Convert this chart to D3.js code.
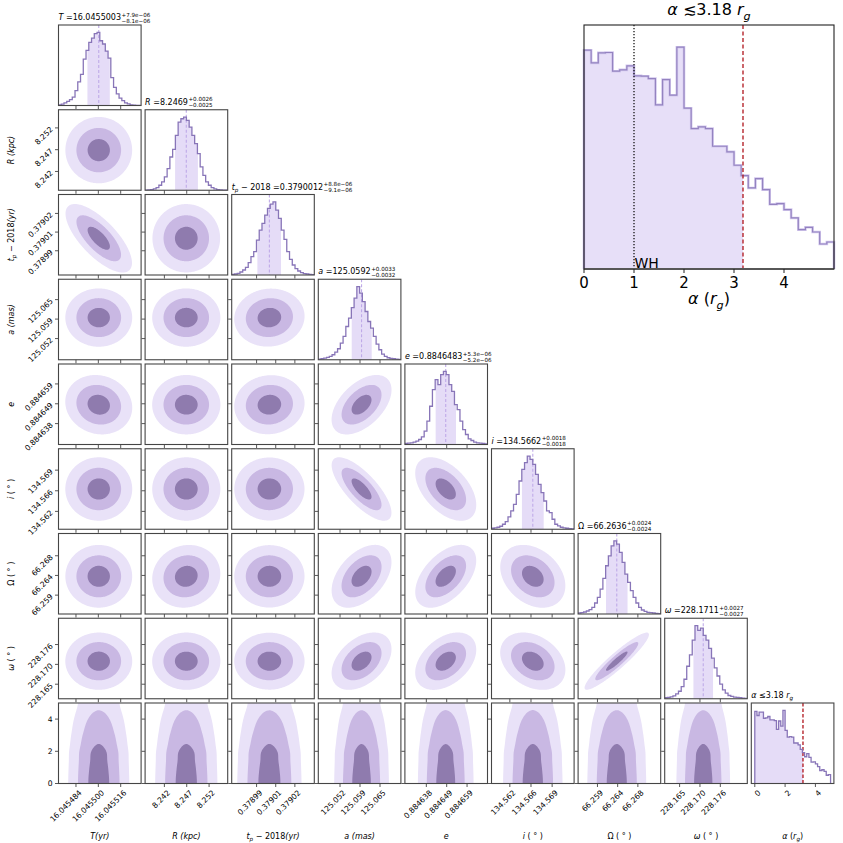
<!DOCTYPE html>
<html><head><meta charset="utf-8">
<script src="https://cdn.jsdelivr.net/npm/d3@7"></script>
<style>body{margin:0;background:#fff}svg{display:block}text{font-family:"DejaVu Sans",sans-serif;fill:#000}</style>
</head><body><svg id="c" width="843" height="843"></svg>
<script>
// ---------------- data ----------------
const valueLabels = ["16.0455003","8.2469","0.3790012","125.0592","0.8846483","134.5662","66.2636","228.1711"];
const medians   = [16.0455003, 8.2469, 0.3790012, 125.0592, 0.8846483, 134.5662, 66.2636, 228.1711];
const errPlus   = [7.9e-6, 0.0026, 8.8e-6, 0.0033, 5.3e-6, 0.0018, 0.0024, 0.0027];
const errMinus  = [8.1e-6, 0.0025, 9.1e-6, 0.0032, 5.2e-6, 0.0018, 0.0024, 0.0027];
const supLabels = ["+7.9e\u221206","+0.0026","+8.8e\u221206","+0.0033","+5.3e\u221206","+0.0018","+0.0024","+0.0027"];
const subLabels = ["\u22128.1e\u221206","\u22120.0025","\u22129.1e\u221206","\u22120.0032","\u22125.2e\u221206","\u22120.0018","\u22120.0024","\u22120.0027"];
const ranges = [[16.0454715,16.0455306],[8.237686,8.256166],[0.37897266,0.37903521],[125.045135,125.071995],
                [0.88462724,0.88466985],[134.559365,134.573035],[66.254986,66.273386],[228.160495,228.183225],[-0.23,5.22]];
const alphaRowRange = [0,5];
const tickValues = [[16.045484,16.0455,16.045516],[8.242,8.247,8.252],[0.3789915,0.379006,0.3790205],[125.0522,125.0587,125.0652],
                    [0.8846383,0.8846488,0.8846593],[134.5624,134.5659,134.5694],[66.2593,66.2638,66.2683],[228.1646,228.1702,228.1758],[0,2,4]];
const tickLabels = [["16.045484","16.045500","16.045516"],["8.242","8.247","8.252"],["0.37899","0.37901","0.37902"],["125.052","125.059","125.065"],
                    ["0.884638","0.884649","0.884659"],["134.562","134.566","134.569"],["66.259","66.264","66.268"],["228.165","228.170","228.176"],["0","2","4"]];
// 1D histograms (30 bins across each range)
const histT  = [2,4,8,13,18,26,46,73,96,143,170,195,208,222,226,200,190,168,146,86,56,36,23,15,8,5,2,1,0,0];
const histR  = [0,1,2,4,8,15,25,40,65,100,123,165,205,215,220,210,190,165,140,110,70,45,25,15,8,4,2,1,0,0];
const histTp = [2,3,5,9,15,23,37,55,70,105,135,155,180,200,213,220,195,170,135,107,70,47,30,19,12,7,4,3,2,1];
const histA  = [2,3,5,7,10,15,23,33,50,70,100,125,157,185,220,200,175,145,115,95,70,47,30,17,10,6,4,3,2,1];
const histE  = [3,4,5,7,10,15,23,40,70,115,165,195,180,210,220,210,180,160,120,105,70,45,30,17,12,7,5,4,3,2];
const histI  = [3,4,6,9,15,23,37,55,75,105,145,180,200,220,210,195,165,135,110,85,55,50,30,15,10,6,4,3,2,1];
const histOm = [3,4,6,9,13,20,33,50,75,107,145,175,205,220,210,185,155,120,95,70,50,33,20,12,8,5,4,3,2,1];
const histOm2= [3,4,6,9,15,23,37,60,100,135,180,225,210,217,195,180,155,125,95,70,45,27,17,10,7,5,4,3,2,1];
// alpha histogram: 35 bins over [0,5]
const alphaBins = [0,5];
const histAlpha = [656,618,648,649,593,597,609,579,578,571,492,568,521,665,482,421,426,421,368,368,351,311,280,243,271,238,194,196,178,153,118,125,111,75,81];
const alphaUpper = 3.18, whValue = 1.0;
const alphaTicksInset = [0,1,2,3,4];
// correlations (row var vs column var), lower triangle
const corrRows = [
  [],
  [0.0],
  [-0.72, 0.0],
  [0.0, 0.0, 0.05],
  [-0.1, 0.0, 0.05, 0.5],
  [0.0, 0.0, 0.0, -0.75, -0.5],
  [0.0, 0.08, 0.0, 0.45, 0.5, -0.3],
  [0.0, 0.0, 0.0, 0.42, 0.4, -0.3, 0.93]
];
const massLevels = [0.9889, 0.8647, 0.3935];
// labels (segments: text, italic, subscript)
const axisLabels = [
  [["T(yr)",1]],
  [["R (kpc)",1]],
  [["t",1],["p",1,1],[" \u2212 2018",0],["(yr)",1]],
  [["a (mas)",1]],
  [["e",1]],
  [["i",1],[" ( \u00b0 )",0]],
  [["\u03a9 ( \u00b0 )",0]],
  [["\u03c9",1],[" ( \u00b0 )",0]],
  [["\u03b1",1],[" (",0],["r",1],["g",1,1],[")",0]]
];
const titleNames = [
  [["T",1],["  =",0]],
  [["R",1],["  =",0]],
  [["t",1],["p",1,1],[" \u2212 2018  =",0]],
  [["a",1],["  =",0]],
  [["e",1],["  =",0]],
  [["i",1],["  =",0]],
  [["\u03a9  =",0]],
  [["\u03c9",1],["  =",0]]
];
const hists = [histT,histR,histTp,histA,histE,histI,histOm,histOm2];

// ---------------- layout ----------------
const left0=58.5, colStep=86.6, pw=82.6, top0=25, rowStep=84.75, ph=80.5;
const COL = {light:"#e9e2f8", mid:"#c9b8e3", dark:"#8f7bae", line:"#8875b8", shade:"#e5dcf7", median:"#bfaae8", spine:"#454545"};
const svg = d3.select("#c");
const defs = svg.append("defs");
const colX = i => left0 + i*colStep;
const rowY = i => top0 + i*rowStep;
const xScaleFor = c => d3.scaleLinear().domain(ranges[c]).range([colX(c), colX(c)+pw]);
const yScaleFor = r => d3.scaleLinear().domain(r===8 ? alphaRowRange : ranges[r]).range([rowY(r)+ph, rowY(r)]);

function rich(sel, segs, fs){
  let shifted = false;
  segs.forEach(s => {
    const t = sel.append("tspan").text(s[0]).attr("font-style", s[1] ? "italic" : "normal");
    if (s[2]) { t.attr("font-size", fs*0.7).attr("dy", fs*0.3); shifted = true; }
    else if (shifted) { t.attr("dy", -fs*0.3); shifted = false; }
  });
  return sel;
}
function clip(id, x, y, w, h){
  defs.append("clipPath").attr("id", id).append("rect").attr("x", x).attr("y", y).attr("width", w).attr("height", h);
  return `url(#${id})`;
}

// smoothed alpha density (for the 2D contours)
const aw = (alphaBins[1]-alphaBins[0]) / histAlpha.length;
let hs = histAlpha.slice();
for (let it=0; it<6; it++) hs = hs.map((v,k)=> 0.25*hs[Math.max(0,k-1)] + 0.5*v + 0.25*hs[Math.min(hs.length-1,k+1)]);
function alphaDens(a){
  if (a < alphaBins[0] || a > alphaBins[1]) return 0;
  const p = (a - alphaBins[0]) / aw - 0.5;
  const k = Math.floor(p), f = p - k;
  const v0 = hs[Math.max(0, Math.min(hs.length-1, k))], v1 = hs[Math.max(0, Math.min(hs.length-1, k+1))];
  return v0 + (v1 - v0) * f;
}

function drawContours(g, xs, ys, xd, yd, dens){
  const n = 100, m = 100, vals = new Float64Array(n*m);
  for (let j=0;j<m;j++) for (let i=0;i<n;i++){
    const x = xd[0] + (i+0.5)/n*(xd[1]-xd[0]);
    const y = yd[0] + (j+0.5)/m*(yd[1]-yd[0]);
    vals[j*n+i] = dens(x, y);
  }
  const sorted = Array.from(vals).sort((a,b)=>b-a);
  const total = d3.sum(sorted);
  const thr = massLevels.map(L => { let c=0; for (const v of sorted){ c+=v; if (c >= L*total) return v; } return sorted[sorted.length-1]; });
  const cs = d3.contours().size([n,m]).thresholds(thr)(vals);
  const proj = d3.geoTransform({point(px,py){ this.stream.point(xs(xd[0]+px/n*(xd[1]-xd[0])), ys(yd[0]+py/m*(yd[1]-yd[0]))); }});
  const path = d3.geoPath(proj);
  const fills = [COL.light, COL.mid, COL.dark];
  g.selectAll(null).data(cs).join("path").attr("d", path).attr("fill", (d,k)=>fills[k]).attr("stroke","none");
}

function stepPoints(xs, ys, counts, lo, hi){
  const n = counts.length, w = (hi-lo)/n, pts = [[xs(lo), ys(0)]];
  counts.forEach((c,k)=>{ pts.push([xs(lo+k*w), ys(c)], [xs(lo+(k+1)*w), ys(c)]); });
  pts.push([xs(hi), ys(0)]);
  return pts;
}

function xTicks(g, c, r, withLabels){
  const xs = xScaleFor(c), yb = rowY(r)+ph;
  tickValues[c].forEach((v,k)=>{
    const x = xs(v);
    g.append("line").attr("x1",x).attr("x2",x).attr("y1",yb).attr("y2",yb+3.5).attr("stroke",COL.spine).attr("stroke-width",0.9);
    if (withLabels) g.append("text").attr("transform",`translate(${x+2.5},${yb+6}) rotate(-45)`).attr("text-anchor","end")
        .attr("font-size",7.6).attr("dy","0.7em").text(tickLabels[c][k]);
  });
}
function yTicks(g, r, c, withLabels){
  const ys = yScaleFor(r), xl = colX(c);
  tickValues[r].forEach((v,k)=>{
    const y = ys(v);
    g.append("line").attr("x1",xl).attr("x2",xl-3.5).attr("y1",y).attr("y2",y).attr("stroke",COL.spine).attr("stroke-width",0.9);
    if (withLabels){
      if (r === 8) g.append("text").attr("x", xl-6).attr("y", y).attr("dy","0.35em").attr("text-anchor","end").attr("font-size",7.6).text(tickLabels[r][k]);
      else g.append("text").attr("transform",`translate(${xl-5},${y+2}) rotate(-45)`).attr("text-anchor","end").attr("font-size",7.6).text(tickLabels[r][k]);
    }
  });
}

// ---------------- corner panels ----------------
for (let r=0; r<9; r++){
  for (let c=0; c<=r; c++){
    const g = svg.append("g");
    const x0 = colX(c), y0 = rowY(r);
    const cl = clip(`p${r}_${c}`, x0, y0, pw, ph);
    const inner = g.append("g").attr("clip-path", cl);
    const xs = xScaleFor(c);
    if (r === c){
      let counts, lo, hi, sLo, sHi;
      if (c < 8){ counts = hists[c]; lo = ranges[c][0]; hi = ranges[c][1]; sLo = medians[c]-errMinus[c]; sHi = medians[c]+errPlus[c]; }
      else { counts = histAlpha; lo = alphaBins[0]; hi = alphaBins[1]; sLo = alphaBins[0]; sHi = alphaUpper; }
      const ys = d3.scaleLinear().domain([0, 1.1*d3.max(counts)]).range([y0+ph, y0]);
      const pts = stepPoints(xs, ys, counts, lo, hi);
      const sc = clip(`s${c}`, xs(sLo), y0, xs(sHi)-xs(sLo), ph);
      inner.append("path").attr("clip-path", sc).attr("d", d3.line()(pts)+"Z").attr("fill", COL.shade);
      if (c < 8) inner.append("line").attr("x1", xs(medians[c])).attr("x2", xs(medians[c])).attr("y1", y0).attr("y2", y0+ph)
          .attr("stroke", COL.median).attr("stroke-width", 1.1).attr("stroke-dasharray","3,2");
      else inner.append("line").attr("x1", xs(alphaUpper)).attr("x2", xs(alphaUpper)).attr("y1", y0).attr("y2", y0+ph)
          .attr("stroke", "#b0141c").attr("stroke-width", 1.3).attr("stroke-dasharray","3.5,2");
      inner.append("path").attr("d", d3.line()(pts)).attr("fill","none").attr("stroke", COL.line).attr("stroke-width",1.3);
      // title
      const tt = g.append("text").attr("x", x0).attr("y", y0-5).attr("font-size", 8);
      if (c < 8){
        rich(tt, titleNames[c], 8);
        tt.append("tspan").attr("dy", 0).text(valueLabels[c]);
        const len = tt.node().getComputedTextLength();
        g.append("text").attr("x", x0+len+0.5).attr("y", y0-8.5).attr("font-size", 5.6).text(supLabels[c]);
        g.append("text").attr("x", x0+len+0.5).attr("y", y0-2.5).attr("font-size", 5.6).text(subLabels[c]);
      } else {
        rich(tt, [["\u03b1",1],["  \u22643.18 ",0],["r",1],["g",1,1]], 8);
      }
    } else {
      const ys = yScaleFor(r);
      let dens, yd;
      const mx = medians[c], sx = (errPlus[c]+errMinus[c])/2;
      if (r < 8){
        const my = medians[r], sy = (errPlus[r]+errMinus[r])/2, rho = corrRows[r][c];
        dens = (x,y)=>{ const u=(x-mx)/sx, v=(y-my)/sy; return Math.exp(-(u*u - 2*rho*u*v + v*v)/(2*(1-rho*rho))); };
        yd = ranges[r];
      } else {
        dens = (x,y)=>{ const u=(x-mx)/sx; return Math.exp(-u*u/2)*alphaDens(y); };
        yd = alphaRowRange;
      }
      drawContours(inner, xs, ys, ranges[c], yd, dens);
      yTicks(g, r, c, c === 0);
    }
    xTicks(g, c, r, r === 8);
    g.append("rect").attr("x", x0).attr("y", y0).attr("width", pw).attr("height", ph)
      .attr("fill","none").attr("stroke", COL.spine).attr("stroke-width", 1.1);
  }
}
// axis labels
for (let c=0; c<9; c++){
  const t = svg.append("text").attr("x", colX(c)+pw/2).attr("y", 839).attr("text-anchor","middle").attr("font-size", 8);
  rich(t, axisLabels[c], 8);
}
for (let r=1; r<8; r++){
  const cy = rowY(r)+ph/2;
  const t = svg.append("text").attr("transform", `translate(14,${cy}) rotate(-90)`).attr("text-anchor","middle").attr("font-size", 8);
  rich(t, axisLabels[r], 8);
}

// ---------------- inset ----------------
const ix0 = 584, ix1 = 834, iy0 = 25, iy1 = 269;
const ixs = d3.scaleLinear().domain(alphaBins).range([ix0, ix1]);
const iys = d3.scaleLinear().domain([0, 1.1*d3.max(histAlpha)]).range([iy1, iy0]);
const ig = svg.append("g");
const ipts = stepPoints(ixs, iys, histAlpha, alphaBins[0], alphaBins[1]);
const ic = clip("ishade", ixs(alphaBins[0]), iy0, ixs(alphaUpper)-ixs(alphaBins[0]), iy1-iy0);
ig.append("path").attr("clip-path", ic).attr("d", d3.line()(ipts)+"Z").attr("fill", "#e7dff8");
ig.append("path").attr("d", d3.line()(ipts)).attr("fill","none").attr("stroke","#d3c8ee").attr("stroke-width",2.6);
ig.append("path").attr("d", d3.line()(ipts)).attr("fill","none").attr("stroke","#9483c0").attr("stroke-width",1.2);
ig.append("line").attr("x1", ixs(whValue)).attr("x2", ixs(whValue)).attr("y1", iy0).attr("y2", iy1)
  .attr("stroke","#000").attr("stroke-width",1.2).attr("stroke-dasharray","1.3,1.7");
ig.append("line").attr("x1", ixs(alphaUpper)).attr("x2", ixs(alphaUpper)).attr("y1", iy0).attr("y2", iy1)
  .attr("stroke","#b0141c").attr("stroke-width",1.3).attr("stroke-dasharray","4,2.5");
ig.append("text").attr("x", ixs(whValue)+0.5).attr("y", iy1-1).attr("font-size", 14).text("WH");
ig.append("line").attr("x1", ix0).attr("x2", ix1).attr("y1", iy1).attr("y2", iy1).attr("stroke","#9a9a9a").attr("stroke-width",2);
ig.append("rect").attr("x", ix0).attr("y", iy0).attr("width", ix1-ix0).attr("height", iy1-iy0)
  .attr("fill","none").attr("stroke","#222").attr("stroke-width",1.1);
alphaTicksInset.forEach(v=>{
  ig.append("line").attr("x1", ixs(v)).attr("x2", ixs(v)).attr("y1", iy1).attr("y2", iy1+4).attr("stroke","#222");
  ig.append("text").attr("x", ixs(v)).attr("y", iy1+19).attr("text-anchor","middle").attr("font-size", 15).text(v);
});
rich(ig.append("text").attr("x", (ix0+ix1)/2).attr("y", 304).attr("text-anchor","middle").attr("font-size", 16),
     [["\u03b1",1],[" (",0],["r",1],["g",1,1],[")",0]], 16);
rich(ig.append("text").attr("x", (ix0+ix1)/2).attr("y", 15).attr("text-anchor","middle").attr("font-size", 16),
     [["\u03b1",1],[" \u22723.18 ",0],["r",1],["g",1,1]], 16);
</script></body></html>
